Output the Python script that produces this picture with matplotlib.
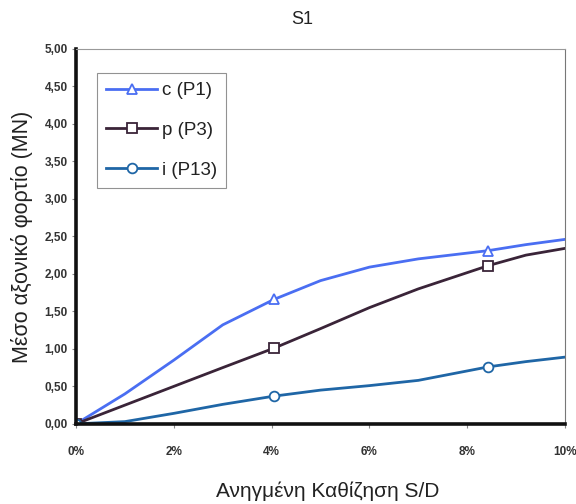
import matplotlib
matplotlib.use("Agg")
import matplotlib.pyplot as plt
from matplotlib.ticker import FuncFormatter

plt.rcParams['font.family'] = ['Liberation Sans', 'DejaVu Sans']

# Normalised settlement S/D (%) and mean axial load (MN)
settlement = [0, 1, 2, 3, 4.05, 5, 6, 7, 8.43, 9.2, 10]
load_c = [0, 0.40, 0.85, 1.32, 1.66, 1.91, 2.09, 2.20, 2.31, 2.39, 2.46]
load_p = [0, 0.25, 0.50, 0.75, 1.01, 1.27, 1.55, 1.80, 2.11, 2.25, 2.34]
load_i = [0, 0.03, 0.14, 0.26, 0.37, 0.45, 0.51, 0.58, 0.76, 0.83, 0.89]
marker_idx = [0, 4, 8]

series_labels = ["c (P1)", "p (P3)", "i (P13)"]
x_ticks = [0, 2, 4, 6, 8, 10]
y_ticks = [0, 0.5, 1.0, 1.5, 2.0, 2.5, 3.0, 3.5, 4.0, 4.5, 5.0]

fig = plt.figure(figsize=(5.76, 5.04), dpi=100)
ax = fig.add_axes([0.132, 0.159, 0.849, 0.744])

styles = [
    (load_c, "#4a6ef2", "^"),
    (load_p, "#3a2438", "s"),
    (load_i, "#1f66a6", "o"),
]
for (vals, color, mk), lab in zip(styles, series_labels):
    ax.plot(settlement, vals, color=color, lw=2.0, marker=mk, markevery=marker_idx,
            markersize=7, markerfacecolor="white", markeredgecolor=color,
            markeredgewidth=1.3, label=lab, solid_joinstyle="round")

ax.set_xlim(0, 10)
ax.set_ylim(0, 5)
ax.set_xticks(x_ticks)
ax.set_yticks(y_ticks)
ax.xaxis.set_major_formatter(FuncFormatter(lambda v, p: f"{int(round(v))}%"))
ax.yaxis.set_major_formatter(FuncFormatter(lambda v, p: f"{v:.2f}".replace(".", ",")))
ax.tick_params(axis="both", direction="out", length=3, width=0.8, color="#888888",
               labelsize=8.5, labelcolor="#333333")
ax.tick_params(axis="x", pad=13)
ax.tick_params(axis="y", pad=3)
for t in ax.get_xticklabels() + ax.get_yticklabels():
    t.set_fontweight("bold")

ax.spines["left"].set_linewidth(2.6)
ax.spines["left"].set_color("#111111")
ax.spines["bottom"].set_linewidth(2.6)
ax.spines["bottom"].set_color("#111111")
ax.spines["top"].set_linewidth(0.8)
ax.spines["top"].set_color("#999999")
ax.spines["right"].set_linewidth(0.8)
ax.spines["right"].set_color("#777777")

ax.set_ylabel("Μέσο αξονικό φορτίο (MN)", fontsize=15.5, labelpad=8, color="#222222")
ax.set_xlabel("Ανηγμένη Καθίζηση S/D", fontsize=15, labelpad=12, color="#222222")
ax.xaxis.set_label_coords(0.515, -0.155)

fig.text(0.524, 0.962, "S1", fontsize=13, ha="center", va="center", color="#222222")

leg = ax.legend(loc="upper left", bbox_to_anchor=(0.043, 0.936), fontsize=13.5,
                frameon=True, fancybox=False, edgecolor="#777777",
                handlelength=2.7, handletextpad=0.25, labelspacing=1.2,
                borderpad=0.5, borderaxespad=0)
leg.get_frame().set_linewidth(0.8)
for t in leg.get_texts():
    t.set_color("#222222")

fig.savefig("out.png", dpi=100)
